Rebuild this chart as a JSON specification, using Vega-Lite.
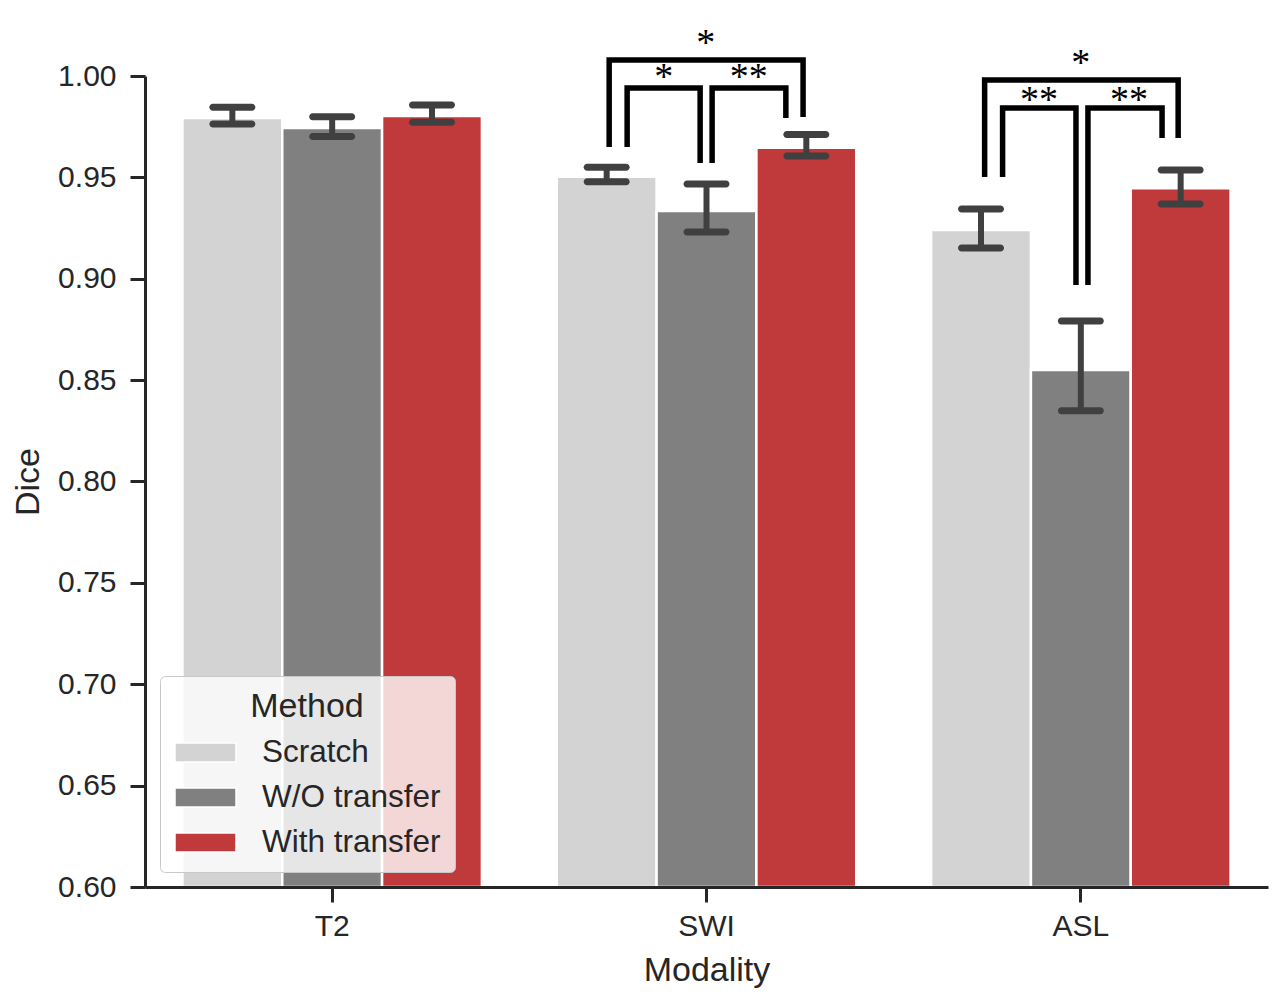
{
  "$schema": "https://vega.github.io/schema/vega-lite/v6.json",
  "width": 1123,
  "height": 811,
  "autosize": {"type": "none"},
  "padding": {"left": 145, "top": 76, "right": 17, "bottom": 118},
  "background": "white",
  "config": {
    "view": {"stroke": null},
    "font": "Liberation Sans",
    "axis": {
      "domainColor": "#262626", "domainWidth": 3,
      "tickColor": "#262626", "tickWidth": 3, "tickSize": 15,
      "labelFont": "Liberation Sans", "labelFontSize": 30, "labelColor": "#262626", "labelPadding": 9,
      "titleFont": "Liberation Sans", "titleFontSize": 34, "titleFontWeight": "normal", "titleColor": "#262626", "titlePadding": 12,
      "grid": false
    },
    "axisY": {"labelPadding": 14, "titlePadding": 12},
    "legend": {
      "titleFont": "Liberation Sans", "titleFontSize": 34, "titleFontWeight": "normal", "titleColor": "#262626",
      "labelFont": "Liberation Sans", "labelFontSize": 31.5, "labelColor": "#262626", "labelLimit": 400
    }
  },
  "datasets": {
    "dice": [
      {"Modality": "T2", "Method": "Scratch", "Dice": 0.9793, "lo": 0.9763, "hi": 0.9846},
      {"Modality": "T2", "Method": "W/O transfer", "Dice": 0.9744, "lo": 0.9701, "hi": 0.9799},
      {"Modality": "T2", "Method": "With transfer", "Dice": 0.9803, "lo": 0.9772, "hi": 0.9857},
      {"Modality": "SWI", "Method": "Scratch", "Dice": 0.9503, "lo": 0.9479, "hi": 0.9550},
      {"Modality": "SWI", "Method": "W/O transfer", "Dice": 0.9334, "lo": 0.9231, "hi": 0.9467},
      {"Modality": "SWI", "Method": "With transfer", "Dice": 0.9646, "lo": 0.9605, "hi": 0.9712},
      {"Modality": "ASL", "Method": "Scratch", "Dice": 0.9240, "lo": 0.9152, "hi": 0.9344},
      {"Modality": "ASL", "Method": "W/O transfer", "Dice": 0.8550, "lo": 0.8349, "hi": 0.8792},
      {"Modality": "ASL", "Method": "With transfer", "Dice": 0.9446, "lo": 0.9369, "hi": 0.9536}
    ],
    "brackets": [
      {"id": "s_out", "ord": 1, "pos": 0.740, "val": 0.9650},
      {"id": "s_out", "ord": 2, "pos": 0.740, "val": 1.0079},
      {"id": "s_out", "ord": 3, "pos": 1.258, "val": 1.0079},
      {"id": "s_out", "ord": 4, "pos": 1.258, "val": 0.9798},
      {"id": "s_l", "ord": 1, "pos": 0.788, "val": 0.9650},
      {"id": "s_l", "ord": 2, "pos": 0.788, "val": 0.9941},
      {"id": "s_l", "ord": 3, "pos": 0.983, "val": 0.9941},
      {"id": "s_l", "ord": 4, "pos": 0.983, "val": 0.9571},
      {"id": "s_r", "ord": 1, "pos": 1.015, "val": 0.9571},
      {"id": "s_r", "ord": 2, "pos": 1.015, "val": 0.9941},
      {"id": "s_r", "ord": 3, "pos": 1.212, "val": 0.9941},
      {"id": "s_r", "ord": 4, "pos": 1.212, "val": 0.9793},
      {"id": "a_out", "ord": 1, "pos": 1.743, "val": 0.9502},
      {"id": "a_out", "ord": 2, "pos": 1.743, "val": 0.9980},
      {"id": "a_out", "ord": 3, "pos": 2.260, "val": 0.9980},
      {"id": "a_out", "ord": 4, "pos": 2.260, "val": 0.9694},
      {"id": "a_l", "ord": 1, "pos": 1.791, "val": 0.9502},
      {"id": "a_l", "ord": 2, "pos": 1.791, "val": 0.9842},
      {"id": "a_l", "ord": 3, "pos": 1.987, "val": 0.9842},
      {"id": "a_l", "ord": 4, "pos": 1.987, "val": 0.8969},
      {"id": "a_r", "ord": 1, "pos": 2.019, "val": 0.8969},
      {"id": "a_r", "ord": 2, "pos": 2.019, "val": 0.9842},
      {"id": "a_r", "ord": 3, "pos": 2.217, "val": 0.9842},
      {"id": "a_r", "ord": 4, "pos": 2.217, "val": 0.9694}
    ],
    "stars": [
      {"pos": 0.998, "val": 1.0104, "label": "*"},
      {"pos": 0.886, "val": 0.9936, "label": "*"},
      {"pos": 1.113, "val": 0.9936, "label": "**"},
      {"pos": 2.000, "val": 1.0004, "label": "*"},
      {"pos": 1.888, "val": 0.9821, "label": "**"},
      {"pos": 2.129, "val": 0.9821, "label": "**"}
    ]
  },
  "layer": [
    {
      "data": {"name": "dice"},
      "encoding": {
        "x": {
          "field": "Modality", "type": "nominal", "sort": ["T2", "SWI", "ASL"],
          "scale": {"paddingInner": 0.2, "paddingOuter": 0.1},
          "axis": {"title": "Modality", "labelAngle": 0, "zindex": 2}
        },
        "xOffset": {
          "field": "Method", "type": "nominal", "sort": ["Scratch", "W/O transfer", "With transfer"],
          "scale": {"paddingInner": 0, "paddingOuter": 0}
        }
      },
      "layer": [
        {
          "mark": {"type": "bar", "stroke": "white", "strokeWidth": 2.5},
          "encoding": {
            "y": {
              "field": "Dice", "type": "quantitative", "title": "Dice",
              "scale": {"domain": [0.6, 1.0], "zero": false, "nice": false},
              "axis": {"title": "Dice", "values": [0.6, 0.65, 0.7, 0.75, 0.8, 0.85, 0.9, 0.95, 1.0], "format": ".2f", "zindex": 2}
            },
            "y2": {"datum": 0.6},
            "color": {
              "field": "Method", "type": "nominal",
              "scale": {"domain": ["Scratch", "W/O transfer", "With transfer"], "range": ["#d3d3d3", "#808080", "#c0393b"]},
              "legend": {
                "title": "Method",
                "orient": "bottom-left",
                "offset": 15,
                "padding": 14,
                "titleAnchor": "middle",
                "titlePadding": 13,
                "fillColor": "rgba(255,255,255,0.8)",
                "strokeColor": "#c8c8c8",
                "cornerRadius": 5,
                "symbolType": "M-1,-0.31L1,-0.31L1,0.31L-1,0.31Z",
                "symbolSize": 3721,
                "symbolStrokeColor": "white",
                "symbolStrokeWidth": 1.5,
                "symbolOpacity": 1,
                "symbolOffset": 0,
                "clipHeight": 31,
                "rowPadding": 13,
                "labelOffset": 25
              }
            }
          }
        },
        {
          "mark": {"type": "rule", "color": "#404040", "strokeWidth": 6},
          "encoding": {
            "y": {"field": "lo", "type": "quantitative", "title": "Dice"},
            "y2": {"field": "hi"}
          }
        },
        {
          "mark": {"type": "tick", "color": "#404040", "size": 46, "thickness": 7, "cornerRadius": 3.5, "opacity": 1},
          "encoding": {"y": {"field": "lo", "type": "quantitative", "title": "Dice"}}
        },
        {
          "mark": {"type": "tick", "color": "#404040", "size": 46, "thickness": 7, "cornerRadius": 3.5, "opacity": 1},
          "encoding": {"y": {"field": "hi", "type": "quantitative", "title": "Dice"}}
        }
      ]
    },
    {
      "layer": [
        {
          "data": {"name": "brackets"},
          "mark": {"type": "line", "color": "black", "strokeWidth": 5.5, "strokeCap": "butt", "strokeJoin": "miter", "clip": false},
          "encoding": {
            "x": {"field": "pos", "type": "quantitative", "scale": {"domain": [-0.5, 2.5], "nice": false, "zero": false}, "axis": null},
            "y": {"field": "val", "type": "quantitative", "title": "Dice"},
            "detail": {"field": "id"},
            "order": {"field": "ord"}
          }
        },
        {
          "data": {"name": "stars"},
          "mark": {"type": "text", "font": "Liberation Serif", "fontSize": 38, "baseline": "alphabetic", "align": "center", "color": "black"},
          "encoding": {
            "x": {"field": "pos", "type": "quantitative", "axis": null},
            "y": {"field": "val", "type": "quantitative", "title": "Dice"},
            "text": {"field": "label"}
          }
        }
      ]
    }
  ],
  "resolve": {"scale": {"x": "independent"}}
}
